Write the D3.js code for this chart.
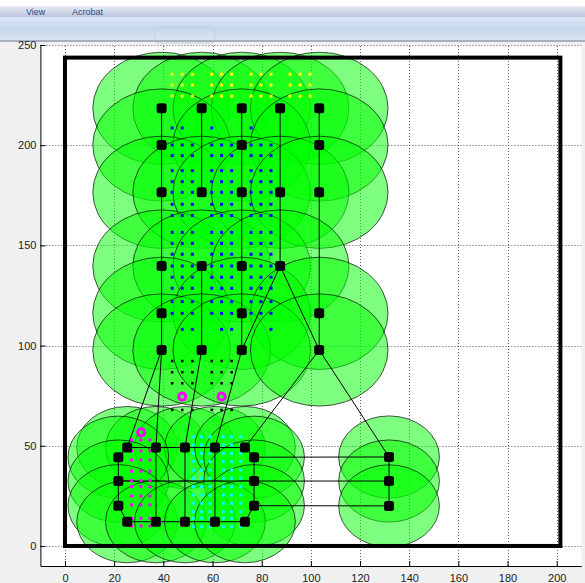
<!DOCTYPE html>
<html>
<head>
<meta charset="utf-8">
<script src="https://cdn.jsdelivr.net/npm/d3@7"></script>
<style>
  html, body { margin: 0; padding: 0; background: #f0f0f0; }
  svg { display: block; }
</style>
</head>
<body>
<svg id="fig" width="585" height="583"></svg>
<script>
// ---- data -------------------------------------------------------------
const xTicks = [0, 20, 40, 60, 80, 100, 120, 140, 160, 180, 200];
const yTicks = [0, 50, 100, 150, 200, 250];

// field boundary (x0, y0, x1, y1)
const fieldBox = [0, 0, 201.5, 243.7];

// sensor nodes of the upper block (sensing radius 28)
const upperNodes = [
  [39.3, 218.4], [55.6, 218.4], [71.9, 218.4], [87.5, 218.4], [103.4, 218.4],
  [39.3, 200.1], [71.9, 200.1], [103.4, 200.1],
  [39.3, 176.5], [55.6, 176.5], [71.9, 176.5], [87.5, 176.5], [103.4, 176.5],
  [39.3, 139.7], [55.6, 139.7], [71.9, 139.7], [87.5, 139.7],
  [39.3, 116.1], [71.9, 116.1], [103.4, 116.1],
  [39.3, 97.8], [55.6, 97.8], [71.9, 97.8], [103.4, 97.8]
];
const upperRadius = 28;

// sensor nodes of the lower block and the relay column (sensing radius 20.5)
const lowerNodes = [
  [25.3, 49.1], [37.0, 49.1], [48.8, 49.1], [61.0, 49.1], [73.2, 49.1],
  [21.7, 44.3], [76.9, 44.3],
  [21.7, 32.4], [76.9, 32.4],
  [21.7, 20.1], [76.9, 20.1],
  [25.3, 12.1], [37.0, 12.1], [48.8, 12.1], [61.0, 12.1], [73.2, 12.1]
];
const relayNodes = [[131.8, 44.4], [131.8, 32.4], [131.8, 20.0]];
const lowerRadius = 20.5;

// communication links between nodes
const links = [
  // upper block columns
  [[39.3, 218.4], [39.3, 97.8]],
  [[55.6, 218.4], [55.6, 176.5]], [[55.6, 139.7], [55.6, 97.8]],
  [[71.9, 218.4], [71.9, 97.8]],
  [[87.5, 218.4], [87.5, 139.7]],
  [[103.4, 218.4], [103.4, 97.8]],
  [[87.5, 139.7], [71.9, 97.8]],
  [[87.5, 139.7], [103.4, 97.8]],
  // upper block down to lower block
  [[39.3, 97.8], [25.3, 49.1]],
  [[39.3, 97.8], [37.0, 49.1]],
  [[55.6, 97.8], [48.8, 49.1]],
  [[71.9, 97.8], [61.0, 49.1]],
  [[103.4, 97.8], [73.2, 49.1]],
  [[103.4, 97.8], [131.8, 44.4]],
  // lower block ring and cross links
  [[25.3, 49.1], [73.2, 49.1]],
  [[25.3, 12.1], [73.2, 12.1]],
  [[25.3, 49.1], [21.7, 44.3]], [[21.7, 44.3], [21.7, 20.1]], [[21.7, 20.1], [25.3, 12.1]],
  [[73.2, 49.1], [76.9, 44.3]], [[76.9, 44.3], [76.9, 20.1]], [[76.9, 20.1], [73.2, 12.1]],
  [[21.7, 32.4], [76.9, 32.4]],
  [[37.0, 49.1], [37.0, 12.1]], [[48.8, 49.1], [48.8, 12.1]], [[61.0, 49.1], [61.0, 12.1]],
  // relay column
  [[76.9, 44.3], [131.8, 44.4]], [[76.9, 32.4], [131.8, 32.4]], [[76.9, 20.1], [131.8, 20.0]],
  [[131.8, 44.4], [131.8, 20.0]]
];

// event points
const yellowRows = [235.4, 230.0, 224.5];
const yellowCols = [43.6, 47.7, 51.8, 59.7, 63.7, 67.8, 75.7, 79.7, 83.8, 91.5, 95.6, 99.7];

const blueRows = [
  { y: 208.6, x: [43.6, 47.7, 59.7, 75.7] },
  { y: 200.1, x: [43.6, 47.7, 51.8, 59.7, 63.7, 67.8, 75.7, 79.7, 83.8] },
  { y: 194.8, x: [43.6, 47.7, 51.8, 59.7, 63.7, 67.8, 75.7, 79.7, 83.8] },
  { y: 187.3, x: [43.6, 47.7, 51.8, 59.7, 63.7, 67.8, 75.7, 79.7, 83.8] },
  { y: 181.8, x: [43.6, 47.7, 51.8, 59.7, 63.7, 67.8, 75.7, 79.7, 83.8] },
  { y: 176.5, x: [43.6, 47.7, 51.8, 59.7, 63.7, 67.8, 75.7, 79.7, 83.8] },
  { y: 170.5, x: [43.6, 47.7, 51.8, 59.7, 63.7, 67.8, 75.7, 79.7, 83.8] },
  { y: 164.9, x: [43.6, 47.7, 51.8, 59.7, 63.7, 67.8, 75.7, 79.7, 83.8] },
  { y: 156.5, x: [43.6, 47.7, 51.8, 59.7, 63.7, 67.8, 75.7, 79.7, 83.8] },
  { y: 151.0, x: [43.6, 47.7, 51.8, 59.7, 63.7, 67.8, 75.7, 79.7, 83.8] },
  { y: 145.6, x: [43.6, 47.7, 51.8, 59.7, 63.7, 67.8, 75.7, 79.7, 83.8] },
  { y: 139.7, x: [43.6, 47.7, 51.8, 59.7, 63.7, 67.8, 75.7, 79.7, 83.8] },
  { y: 134.1, x: [43.6, 47.7, 51.8, 59.7, 63.7, 67.8, 75.7, 79.7, 83.8] },
  { y: 128.6, x: [43.6, 47.7, 51.8, 59.7, 63.7, 67.8, 75.7, 79.7, 83.8] },
  { y: 121.9, x: [43.6, 47.7, 51.8, 59.7, 63.7, 67.8, 75.7, 79.7, 83.8] },
  { y: 116.1, x: [43.6, 47.7, 51.8, 59.7, 63.7, 67.8, 75.7, 79.7, 83.8] },
  { y: 108.1, x: [47.7, 51.8, 63.7, 67.8, 83.8] }
];

const blackRows = [92.3, 86.7, 81.2, 67.9];
const blackCols = [43.6, 47.7, 51.8, 59.7, 63.7, 67.8];

const magentaRows = [52.9, 47.4, 42.9, 37.4, 32.6, 29.6, 24.9, 20.5, 13.8, 10.0];
const magentaCols = [27.1, 30.9, 34.6];

const cyanRows = [54.5, 50.4, 46.2, 42.1, 37.9, 33.8, 29.6, 25.4, 21.3, 17.1, 13.8, 9.6];
const cyanCols = [52.2, 55.6, 59.0, 64.4, 67.8, 71.5];

const targets = [[47.7, 74.5], [63.7, 74.5], [31.0, 56.7]];

// ---- layout -----------------------------------------------------------
const svg = d3.select("#fig");
const x = d3.scaleLinear().domain([-10, 210]).range([40.4, 581.3]);
const y = d3.scaleLinear().domain([-10, 250]).range([566, 45]);

// window chrome above the figure
const chrome = svg.append("g");
chrome.append("rect").attr("x", 0).attr("y", 0).attr("width", 585).attr("height", 6).attr("fill", "#ffffff");
const gradMenu = svg.append("defs").append("linearGradient").attr("id", "menuGrad").attr("x1", 0).attr("y1", 0).attr("x2", 0).attr("y2", 1);
gradMenu.append("stop").attr("offset", 0).attr("stop-color", "#e6eaf3");
gradMenu.append("stop").attr("offset", 1).attr("stop-color", "#bcc7de");
const gradTool = svg.select("defs").append("linearGradient").attr("id", "toolGrad").attr("x1", 0).attr("y1", 0).attr("x2", 0).attr("y2", 1);
gradTool.append("stop").attr("offset", 0).attr("stop-color", "#dce7f5");
gradTool.append("stop").attr("offset", 0.5).attr("stop-color", "#c5d7ee");
gradTool.append("stop").attr("offset", 1).attr("stop-color", "#d9e5f4");
chrome.append("rect").attr("x", 0).attr("y", 6).attr("width", 585).attr("height", 11).attr("fill", "url(#menuGrad)");
chrome.append("text").attr("x", 26).attr("y", 15).attr("font-family", "Liberation Sans, Arial, sans-serif")
  .attr("font-size", 9).attr("fill", "#2a4a8a").text("View");
chrome.append("text").attr("x", 72).attr("y", 15).attr("font-family", "Liberation Sans, Arial, sans-serif")
  .attr("font-size", 9).attr("fill", "#2a4a8a").text("Acrobat");
chrome.append("rect").attr("x", 0).attr("y", 17).attr("width", 585).attr("height", 23).attr("fill", "url(#toolGrad)");
chrome.append("rect").attr("x", 155).attr("y", 27).attr("width", 60).attr("height", 16).attr("rx", 3)
  .attr("fill", "none").attr("stroke", "#c8ccd4");
chrome.append("rect").attr("x", 0).attr("y", 40).attr("width", 585).attr("height", 2).attr("fill", "#a9b0bb");

// axes background
svg.append("rect").attr("x", x(-10)).attr("y", y(250)).attr("width", x(210) - x(-10)).attr("height", y(-10) - y(250))
  .attr("fill", "#ffffff");

// grid
const grid = svg.append("g").attr("stroke", "#5a5a5a").attr("stroke-width", 1).attr("stroke-dasharray", "1,2");
grid.selectAll("line.gx").data(xTicks).join("line")
  .attr("x1", d => Math.round(x(d)) + 0.5).attr("x2", d => Math.round(x(d)) + 0.5)
  .attr("y1", y(-10)).attr("y2", y(250));
grid.selectAll("line.gy").data(yTicks).join("line")
  .attr("x1", x(-10)).attr("x2", x(210))
  .attr("y1", d => Math.round(y(d)) + 0.5).attr("y2", d => Math.round(y(d)) + 0.5);

// sensing disks
const disks = svg.append("g");
function drawDisks(nodes, r) {
  disks.selectAll(null).data(nodes).join("ellipse")
    .attr("cx", d => x(d[0])).attr("cy", d => y(d[1]))
    .attr("rx", x(r) - x(0)).attr("ry", y(0) - y(r))
    .attr("fill", "#00ff00").attr("fill-opacity", 0.5)
    .attr("stroke", "#000").attr("stroke-opacity", 0.75).attr("stroke-width", 0.9);
}
drawDisks(upperNodes, upperRadius);
drawDisks(lowerNodes, lowerRadius);
drawDisks(relayNodes, lowerRadius);

// field boundary
svg.append("rect")
  .attr("x", x(fieldBox[0])).attr("y", y(fieldBox[3]))
  .attr("width", x(fieldBox[2]) - x(fieldBox[0])).attr("height", y(fieldBox[1]) - y(fieldBox[3]))
  .attr("fill", "none").attr("stroke", "#000").attr("stroke-width", 4);

// links
svg.append("g").selectAll("line").data(links).join("line")
  .attr("x1", d => x(d[0][0])).attr("y1", d => y(d[0][1]))
  .attr("x2", d => x(d[1][0])).attr("y2", d => y(d[1][1]))
  .attr("stroke", "#000").attr("stroke-width", 1);

// event points
function dots(points, color, size) {
  svg.append("g").selectAll("rect").data(points).join("rect")
    .attr("x", d => x(d[0]) - size / 2).attr("y", d => y(d[1]) - size / 2)
    .attr("width", size).attr("height", size).attr("fill", color);
}
dots(yellowRows.flatMap(r => yellowCols.map(c => [c, r])), "#ffff00", 3);
dots(blueRows.flatMap(r => r.x.map(c => [c, r.y])), "#0000ff", 3);
dots(blackRows.flatMap(r => blackCols.map(c => [c, r])), "#000000", 2.5);
dots(magentaRows.flatMap(r => magentaCols.map(c => [c, r])), "#ff00ff", 3);
dots(cyanRows.flatMap(r => cyanCols.map(c => [c, r])), "#00ffff", 3);

// nodes
function nodes(points) {
  svg.append("g").selectAll("rect").data(points).join("rect")
    .attr("x", d => x(d[0]) - 5).attr("y", d => y(d[1]) - 5)
    .attr("width", 10).attr("height", 10).attr("rx", 2.5).attr("fill", "#000");
}
nodes(upperNodes);
nodes(lowerNodes);
nodes(relayNodes);

// targets
svg.append("g").selectAll("circle").data(targets).join("circle")
  .attr("cx", d => x(d[0])).attr("cy", d => y(d[1])).attr("r", 3.6)
  .attr("fill", "none").attr("stroke", "#ff00ff").attr("stroke-width", 3);

// axes
const font = "Liberation Sans, Arial, sans-serif";
const xAxis = svg.append("g").attr("transform", `translate(0,${y(-10)})`)
  .call(d3.axisBottom(x).tickValues(xTicks).tickSize(-5).tickPadding(8).tickSizeOuter(0));
const yAxis = svg.append("g").attr("transform", `translate(${x(-10)},0)`)
  .call(d3.axisLeft(y).tickValues(yTicks).tickSize(-5).tickPadding(4).tickSizeOuter(0));
[xAxis, yAxis].forEach(a => {
  a.select(".domain").attr("stroke", "#000");
  a.selectAll(".tick line").attr("stroke", "#000");
  a.selectAll(".tick text").attr("font-family", font).attr("font-size", 11).attr("fill", "#222");
});
</script>
</body>
</html>
